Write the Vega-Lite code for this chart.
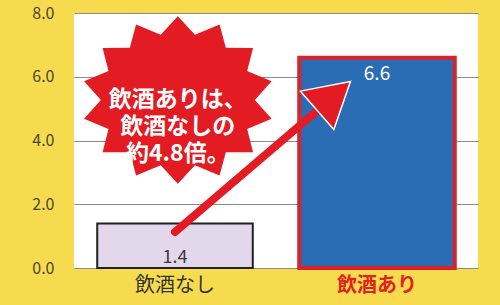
{
  "$schema": "https://vega.github.io/schema/vega-lite/v6.json",
  "width": 404,
  "height": 255,
  "autosize": {"type": "none"},
  "padding": {"left": 74, "top": 13, "right": 22, "bottom": 37},
  "background": "#f7db4e",
  "view": {"fill": "white", "stroke": null},
  "config": {
    "font": "Noto Sans CJK JP",
    "axis": {"labelFont": "Noto Sans CJK JP"}
  },
  "datasets": {
    "bars": [
      {"cat": "飲酒なし", "value": 1.4},
      {"cat": "飲酒あり", "value": 6.6}
    ],
    "burst": [
      {"x": 0.257, "y": 5.27, "label": "飲酒ありは、\n飲酒なしの\n約4.8倍。"}
    ],
    "arrow": [
      {"x": 0.25, "y": 1.13, "x2": 0.64, "y2": 5.35}
    ],
    "head": [
      {"x": 0.643, "y": 5.4}
    ]
  },
  "resolve": {"scale": {"x": "independent"}, "axis": {"x": "independent"}},
  "layer": [
    {
      "data": {"name": "bars"},
      "layer": [
        {
          "mark": {"type": "bar"},
          "encoding": {
            "x": {
              "field": "cat", "type": "nominal", "sort": ["飲酒なし", "飲酒あり"],
              "scale": {"paddingInner": 0.23, "paddingOuter": 0.115},
              "axis": {
                "title": null, "labelAngle": 0, "domain": false, "ticks": false,
                "labelFontSize": 20, "labelPadding": 7,
                "labelFontWeight": {"condition": {"test": "datum.value == '飲酒あり'", "value": "bold"}, "value": "normal"},
                "labelColor": {"condition": {"test": "datum.value == '飲酒あり'", "value": "#e0231f"}, "value": "#333333"}
              }
            },
            "y": {
              "field": "value", "type": "quantitative",
              "scale": {"domain": [0, 8], "nice": false},
              "axis": {
                "title": null, "values": [0, 2, 4, 6, 8], "format": ".1f",
                "domain": false, "ticks": false, "labelFontSize": 16,
                "labelColor": "#4a4636", "labelPadding": 20,
                "gridColor": "#8c8c8c", "gridWidth": 1, "gridOpacity": 1
              }
            },
            "fill": {
              "field": "cat", "type": "nominal", "legend": null,
              "scale": {"domain": ["飲酒なし", "飲酒あり"], "range": ["#e3d7ec", "#2a6db5"]}
            },
            "stroke": {
              "field": "cat", "type": "nominal", "legend": null,
              "scale": {"domain": ["飲酒なし", "飲酒あり"], "range": ["#222222", "#d9232b"]}
            },
            "strokeWidth": {
              "field": "cat", "type": "nominal", "legend": null,
              "scale": {"domain": ["飲酒なし", "飲酒あり"], "range": [2, 4]}
            }
          }
        },
        {
          "transform": [{"filter": "datum.cat == '飲酒あり'"}],
          "mark": {"type": "text", "baseline": "top", "dy": 7, "fontSize": 19, "color": "white"},
          "encoding": {
            "x": {"field": "cat", "type": "nominal", "sort": ["飲酒なし", "飲酒あり"]},
            "y": {"field": "value", "type": "quantitative"},
            "text": {"field": "value", "type": "quantitative", "format": ".1f"}
          }
        },
        {
          "transform": [{"filter": "datum.cat == '飲酒なし'"}],
          "mark": {"type": "text", "baseline": "bottom", "dy": -1, "fontSize": 18, "color": "#3a3a3a"},
          "encoding": {
            "x": {"field": "cat", "type": "nominal", "sort": ["飲酒なし", "飲酒あり"]},
            "y": {"datum": 0, "type": "quantitative"},
            "text": {"field": "value", "type": "quantitative", "format": ".1f"}
          }
        }
      ]
    },
    {
      "data": {"name": "burst"},
      "mark": {
        "type": "point", "filled": true, "color": "#e31b23", "opacity": 1, "size": 37000,
        "shape": "M0,-0.87 L0.178,-0.679 L0.434,-0.784 L0.499,-0.544 L0.782,-0.542 L0.721,-0.302 L0.975,-0.194 L0.8,0 L0.975,0.194 L0.721,0.302 L0.782,0.542 L0.499,0.544 L0.434,0.784 L0.178,0.679 L0,0.87 L-0.178,0.679 L-0.434,0.784 L-0.499,0.544 L-0.782,0.542 L-0.721,0.302 L-0.975,0.194 L-0.8,0 L-0.975,-0.194 L-0.721,-0.302 L-0.782,-0.542 L-0.499,-0.544 L-0.434,-0.784 L-0.178,-0.679 Z"
      },
      "encoding": {
        "x": {"field": "x", "type": "quantitative", "scale": {"domain": [0, 1], "nice": false}, "axis": null},
        "y": {"field": "y", "type": "quantitative"}
      }
    },
    {
      "data": {"name": "arrow"},
      "mark": {"type": "rule", "color": "#e31b23", "strokeWidth": 8, "strokeCap": "round"},
      "encoding": {
        "x": {"field": "x", "type": "quantitative", "scale": {"domain": [0, 1], "nice": false}, "axis": null},
        "y": {"field": "y", "type": "quantitative"},
        "x2": {"field": "x2"},
        "y2": {"field": "y2"}
      }
    },
    {
      "data": {"name": "head"},
      "mark": {"type": "point", "shape": "triangle-up", "filled": true, "color": "#e31b23", "opacity": 1, "size": 2600, "angle": 49, "stroke": "white", "strokeWidth": 1.5},
      "encoding": {
        "x": {"field": "x", "type": "quantitative", "scale": {"domain": [0, 1], "nice": false}, "axis": null},
        "y": {"field": "y", "type": "quantitative"}
      }
    },
    {
      "data": {"name": "burst"},
      "mark": {"type": "text", "color": "white", "fontSize": 23, "fontWeight": "bold", "lineBreak": "\n", "lineHeight": 27, "align": "center", "baseline": "middle"},
      "encoding": {
        "x": {"field": "x", "type": "quantitative", "scale": {"domain": [0, 1], "nice": false}, "axis": null},
        "y": {"field": "y", "type": "quantitative"},
        "text": {"field": "label"}
      }
    }
  ]
}
